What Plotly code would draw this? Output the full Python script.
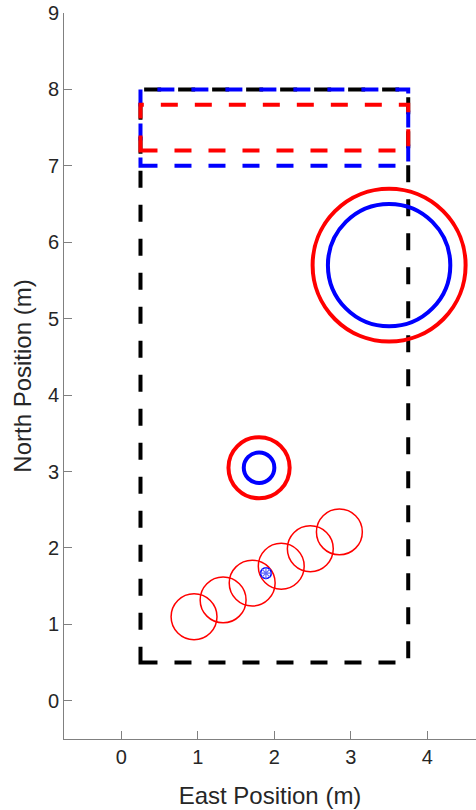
import plotly.graph_objects as go

# ---- data ----
# dashed rectangles: x0, y0, x1, y1, colour (drawing order)
rect_x0 = [0.25, 0.25, 0.25]
rect_y0 = [0.5, 7.0, 7.2]
rect_x1 = [3.75, 3.75, 3.75]
rect_y1 = [8.0, 8.0, 7.8]
rect_colors = ["black", "blue", "red"]

# thick circles: centre x, centre y, radius, colour
thick_cx = [3.5, 3.5, 1.8, 1.8]
thick_cy = [5.7, 5.7, 3.05, 3.05]
thick_r = [1.0, 0.8, 0.4, 0.2]
thick_colors = ["red", "blue", "red", "blue"]

# thin red circles along a track
thin_cx = [0.95, 1.33, 1.71, 2.09, 2.47, 2.85]
thin_cy = [1.10, 1.32, 1.54, 1.76, 1.99, 2.21]
thin_r = 0.3

# current position marker
pos_x = [1.89]
pos_y = [1.67]
pos_r = 0.07

x_ticks = [0, 1, 2, 3, 4]
y_ticks = [0, 1, 2, 3, 4, 5, 6, 7, 8, 9]

shapes = []
for x0, y0, x1, y1, c in zip(rect_x0, rect_y0, rect_x1, rect_y1, rect_colors):
    shapes.append(dict(type="rect", xref="x", yref="y", x0=x0, y0=y0, x1=x1, y1=y1,
                       layer="below", line=dict(color=c, width=4, dash="17px,17px")))
for cx, cy, r, c in zip(thick_cx, thick_cy, thick_r, thick_colors):
    shapes.append(dict(type="circle", xref="x", yref="y", x0=cx - r, y0=cy - r,
                       x1=cx + r, y1=cy + r, layer="below", line=dict(color=c, width=4)))
for cx, cy in zip(thin_cx, thin_cy):
    shapes.append(dict(type="circle", xref="x", yref="y", x0=cx - thin_r, y0=cy - thin_r,
                       x1=cx + thin_r, y1=cy + thin_r, layer="below",
                       line=dict(color="red", width=1.5)))
for cx, cy in zip(pos_x, pos_y):
    shapes.append(dict(type="circle", xref="x", yref="y", x0=cx - pos_r, y0=cy - pos_r,
                       x1=cx + pos_r, y1=cy + pos_r, layer="below",
                       line=dict(color="blue", width=1.5)))

fig = go.Figure()
fig.add_trace(go.Scatter(x=pos_x, y=pos_y, mode="markers",
                         marker=dict(symbol="asterisk-open", size=10,
                                     line=dict(color="red", width=1.2)),
                         showlegend=False, hoverinfo="skip"))

axis_common = dict(showline=True, linecolor="#808080", linewidth=1, ticks="inside",
                   ticklen=8, tickcolor="#808080", tickwidth=1, showgrid=False,
                   zeroline=False, mirror=False,
                   tickfont=dict(family="Liberation Sans, Arial, sans-serif", size=20, color="#262626"),
                   title_font=dict(family="Liberation Sans, Arial, sans-serif", size=24, color="#262626"))

fig.update_layout(
    width=476, height=810, autosize=False,
    margin=dict(l=64, r=0, t=13, b=71),
    paper_bgcolor="white", plot_bgcolor="white",
    shapes=shapes,
    xaxis=dict(range=[-0.75, 4.636], tickvals=x_ticks, title_text="East Position (m)",
               title_standoff=20, **axis_common),
    yaxis=dict(range=[-0.5, 9], tickvals=y_ticks, title_text="North Position (m)",
               title_standoff=9, **axis_common),
)

fig.write_html("out.html")
